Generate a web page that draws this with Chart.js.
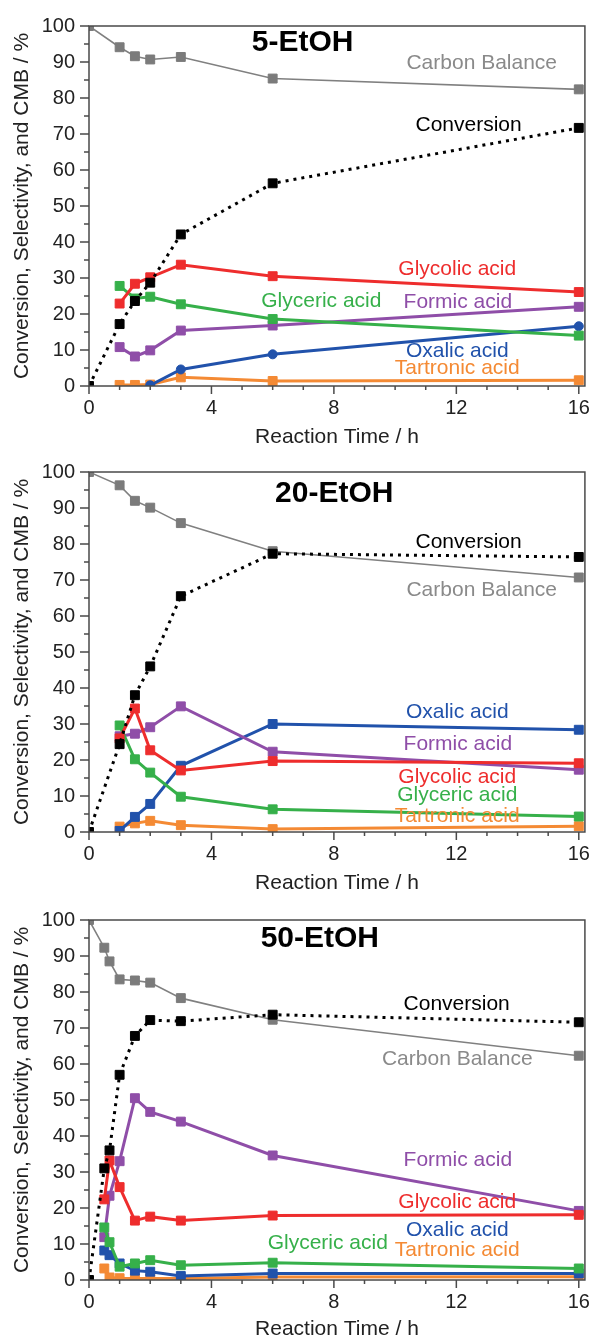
<!DOCTYPE html>
<html>
<head>
<meta charset="utf-8">
<script src="https://cdn.jsdelivr.net/npm/chart.js@4"></script>
<style>
  html, body { margin: 0; padding: 0; background: #fff; }
  body { width: 600px; height: 1340px; position: relative; overflow: hidden; }
  canvas { position: absolute; left: 0; }
</style>
</head>
<body>
<canvas id="c1" width="600" height="454" style="top:0px"></canvas>
<canvas id="c2" width="600" height="454" style="top:446px"></canvas>
<canvas id="c3" width="600" height="452" style="top:894px"></canvas>
<script>
// ---------- DATA ----------
const xTickLabels = [0, 4, 8, 12, 16];
const yTickLabels = [0, 10, 20, 30, 40, 50, 60, 70, 80, 90, 100];
const seriesNames = ['Conversion', 'Carbon Balance', 'Glycolic acid', 'Glyceric acid', 'Formic acid', 'Oxalic acid', 'Tartronic acid'];

// 5-EtOH
const times1     = [0, 1, 1.5, 2, 3, 6, 16];
const conv1      = [0, 17.2, 23.6, 28.7, 42.1, 56.3, 71.7];
const cb1        = [100, 94.1, 91.6, 90.7, 91.4, 85.4, 82.4];
const glycolic1  = [null, 22.9, 28.4, 30.2, 33.7, 30.5, 26.1];
const glyceric1  = [null, 27.8, 24.3, 24.8, 22.7, 18.6, 14.0];
const formic1    = [null, 10.8, 8.2, 9.9, 15.4, 16.8, 22.0];
const oxalic1    = [null, null, null, 0.2, 4.6, 8.8, 16.6];
const tartronic1 = [null, 0.3, 0.3, 0.4, 2.4, 1.4, 1.6];

// 20-EtOH
const times2     = [0, 1, 1.5, 2, 3, 6, 16];
const conv2      = [0, 24.4, 38.0, 46.0, 65.5, 77.3, 76.4];
const cb2        = [100, 96.3, 92.0, 90.1, 85.8, 78.0, 70.7];
const glycolic2  = [null, 26.0, 34.3, 22.7, 17.1, 19.7, 19.1];
const glyceric2  = [null, 29.6, 20.2, 16.5, 9.8, 6.3, 4.3];
const formic2    = [null, 26.6, 27.3, 29.1, 34.9, 22.3, 17.3];
const oxalic2    = [null, 0.3, 4.2, 7.8, 18.4, 30.0, 28.4];
const tartronic2 = [null, 1.5, 2.4, 3.1, 1.9, 0.8, 1.6];

// 50-EtOH
const times3     = [0, 0.5, 0.67, 1, 1.5, 2, 3, 6, 16];
const conv3      = [0, 31.0, 36.0, 57.0, 67.8, 72.2, 71.9, 73.7, 71.6];
const cb3        = [100, 92.3, 88.5, 83.5, 83.2, 82.6, 78.3, 72.3, 62.3];
const glycolic3  = [null, 22.4, 33.2, 25.8, 16.5, 17.6, 16.5, 17.9, 18.1];
const glyceric3  = [null, 14.6, 10.5, 3.7, 4.6, 5.5, 4.1, 4.8, 3.2];
const formic3    = [null, 11.9, 23.4, 33.0, 50.5, 46.7, 44.0, 34.6, 19.2];
const oxalic3    = [null, 8.2, 6.9, 4.6, 2.6, 2.3, 1.1, 1.8, 1.8];
const tartronic3 = [null, 3.2, 0.7, 0.5, 0.4, 0.4, 0.4, 0.8, 0.9];

// ---------- STYLE ----------
const FONT = '"Liberation Sans", Arial, Helvetica, sans-serif';
const colors = {
  'Conversion': '#000000',
  'Carbon Balance': '#808080',
  'Glycolic acid': '#ee2d2d',
  'Glyceric acid': '#36b04a',
  'Formic acid': '#8f4ea8',
  'Oxalic acid': '#2152ab',
  'Tartronic acid': '#f48a34'
};

// in-plot label anchors (data coordinates: hours, %)
const panels = [
  { id: 'c1', title: '5-EtOH', titleAt: [6.98, 95.3], times: times1, axisH: 68,
    values: [conv1, cb1, glycolic1, glyceric1, formic1, oxalic1, tartronic1],
    oxalicCircle: true,
    labels: { 'Carbon Balance': [12.83, 89.6], 'Conversion': [12.4, 72.5], 'Glycolic acid': [12.03, 32.4],
              'Glyceric acid': [7.59, 23.6], 'Formic acid': [12.05, 23.4], 'Oxalic acid': [12.03, 9.6],
              'Tartronic acid': [12.03, 4.9] } },
  { id: 'c2', title: '20-EtOH', titleAt: [8.01, 94.0], times: times2, axisH: 68,
    values: [conv2, cb2, glycolic2, glyceric2, formic2, oxalic2, tartronic2],
    oxalicCircle: false,
    labels: { 'Conversion': [12.4, 80.5], 'Carbon Balance': [12.83, 67.1], 'Oxalic acid': [12.03, 33.2],
              'Formic acid': [12.05, 24.4], 'Glycolic acid': [12.03, 15.3], 'Glyceric acid': [12.03, 10.1],
              'Tartronic acid': [12.03, 4.4] } },
  { id: 'c3', title: '50-EtOH', titleAt: [7.54, 94.8], times: times3, axisH: 66,
    values: [conv3, cb3, glycolic3, glyceric3, formic3, oxalic3, tartronic3],
    oxalicCircle: false,
    labels: { 'Conversion': [12.01, 76.6], 'Carbon Balance': [12.03, 61.3], 'Formic acid': [12.05, 33.2],
              'Glycolic acid': [12.03, 21.7], 'Oxalic acid': [12.03, 13.7], 'Tartronic acid': [12.03, 8.2],
              'Glyceric acid': [7.8, 10.2] } }
];

const framePlugin = {
  id: 'frame',
  afterDraw(chart, args, opts) {
    const { ctx, chartArea: a, scales: { x, y } } = chart;
    ctx.save();
    ctx.strokeStyle = '#4a4a4a';
    ctx.lineWidth = 1.5;
    ctx.strokeRect(a.left, a.top, a.right - a.left, a.bottom - a.top);
    ctx.beginPath();
    for (let v = 0; v <= 16; v++) {
      const px = x.getPixelForValue(v);
      const len = v % 4 === 0 ? 8 : 4;
      ctx.moveTo(px, a.bottom); ctx.lineTo(px, a.bottom + len);
    }
    for (let v = 0; v <= 100; v += 5) {
      const py = y.getPixelForValue(v);
      const len = v % 10 === 0 ? 9 : 5;
      ctx.moveTo(a.left, py); ctx.lineTo(a.left - len, py);
    }
    ctx.stroke();
    // series labels
    ctx.textAlign = 'center';
    ctx.textBaseline = 'middle';
    ctx.font = '21px ' + FONT;
    const labels = opts.labels || {};
    Object.keys(labels).forEach(name => {
      const [lx, ly] = labels[name];
      ctx.fillStyle = name === 'Carbon Balance' ? '#8a8a8a' : colors[name];
      ctx.fillText(name, x.getPixelForValue(lx), y.getPixelForValue(ly));
    });
    // panel title
    ctx.font = 'bold 30px ' + FONT;
    ctx.fillStyle = '#000';
    ctx.fillText(opts.title, x.getPixelForValue(opts.titleAt[0]), y.getPixelForValue(opts.titleAt[1]));
    ctx.restore();
  }
};

function makePanel(p) {
  const datasets = seriesNames.map((name, i) => {
    const vals = p.values[i];
    const data = p.times.map((t, k) => ({ x: t, y: vals[k] }));
    const isConv = name === 'Conversion';
    const isCB = name === 'Carbon Balance';
    const circle = name === 'Oxalic acid' && p.oxalicCircle;
    return {
      label: name,
      data,
      borderColor: colors[name],
      backgroundColor: colors[name],
      pointBackgroundColor: isCB ? '#7b7b7b' : colors[name],
      pointBorderColor: isCB ? '#7b7b7b' : colors[name],
      borderWidth: isConv ? 3 : (isCB ? 1.6 : 3),
      borderDash: isConv ? [3, 5] : [],
      borderCapStyle: 'butt',
      pointStyle: circle ? 'circle' : 'rect',
      pointRadius: circle ? 4.5 : 6.3,
      pointBorderWidth: 1,
      pointHoverRadius: circle ? 4.5 : 6.3,
      tension: 0,
      spanGaps: false,
      fill: false
    };
  });
  new Chart(document.getElementById(p.id), {
    type: 'line',
    data: { datasets },
    options: {
      responsive: false,
      animation: false,
      events: [],
      layout: { padding: { top: 22, right: 7, left: 0, bottom: 0 } },
      plugins: {
        legend: { display: false },
        tooltip: { enabled: false },
        frame: { labels: p.labels, title: p.title, titleAt: p.titleAt }
      },
      scales: {
        x: {
          type: 'linear', min: 0, max: 16.2,
          grid: { display: false, drawTicks: false },
          border: { display: false },
          afterBuildTicks: s => { s.ticks = xTickLabels.map(v => ({ value: v })); },
          afterFit: s => { s.height = p.axisH; },
          ticks: { color: '#222', font: { size: 20, family: FONT }, padding: 10, maxRotation: 0, autoSkip: false },
          title: { display: true, text: 'Reaction Time / h', color: '#222', font: { size: 21, family: FONT }, padding: { top: 0, bottom: 4 } }
        },
        y: {
          type: 'linear', min: 0, max: 100,
          grid: { display: false, drawTicks: false },
          border: { display: false },
          afterBuildTicks: s => { s.ticks = yTickLabels.map(v => ({ value: v })); },
          afterFit: s => { s.width = 89; },
          ticks: { color: '#222', font: { size: 20, family: FONT }, padding: 14, autoSkip: false },
          title: { display: true, text: 'Conversion, Selectivity, and CMB / %', color: '#222', font: { size: 21, family: FONT }, padding: { top: 10, bottom: 0 } }
        }
      }
    },
    plugins: [framePlugin]
  });
}
panels.forEach(makePanel);
</script>
</body>
</html>
